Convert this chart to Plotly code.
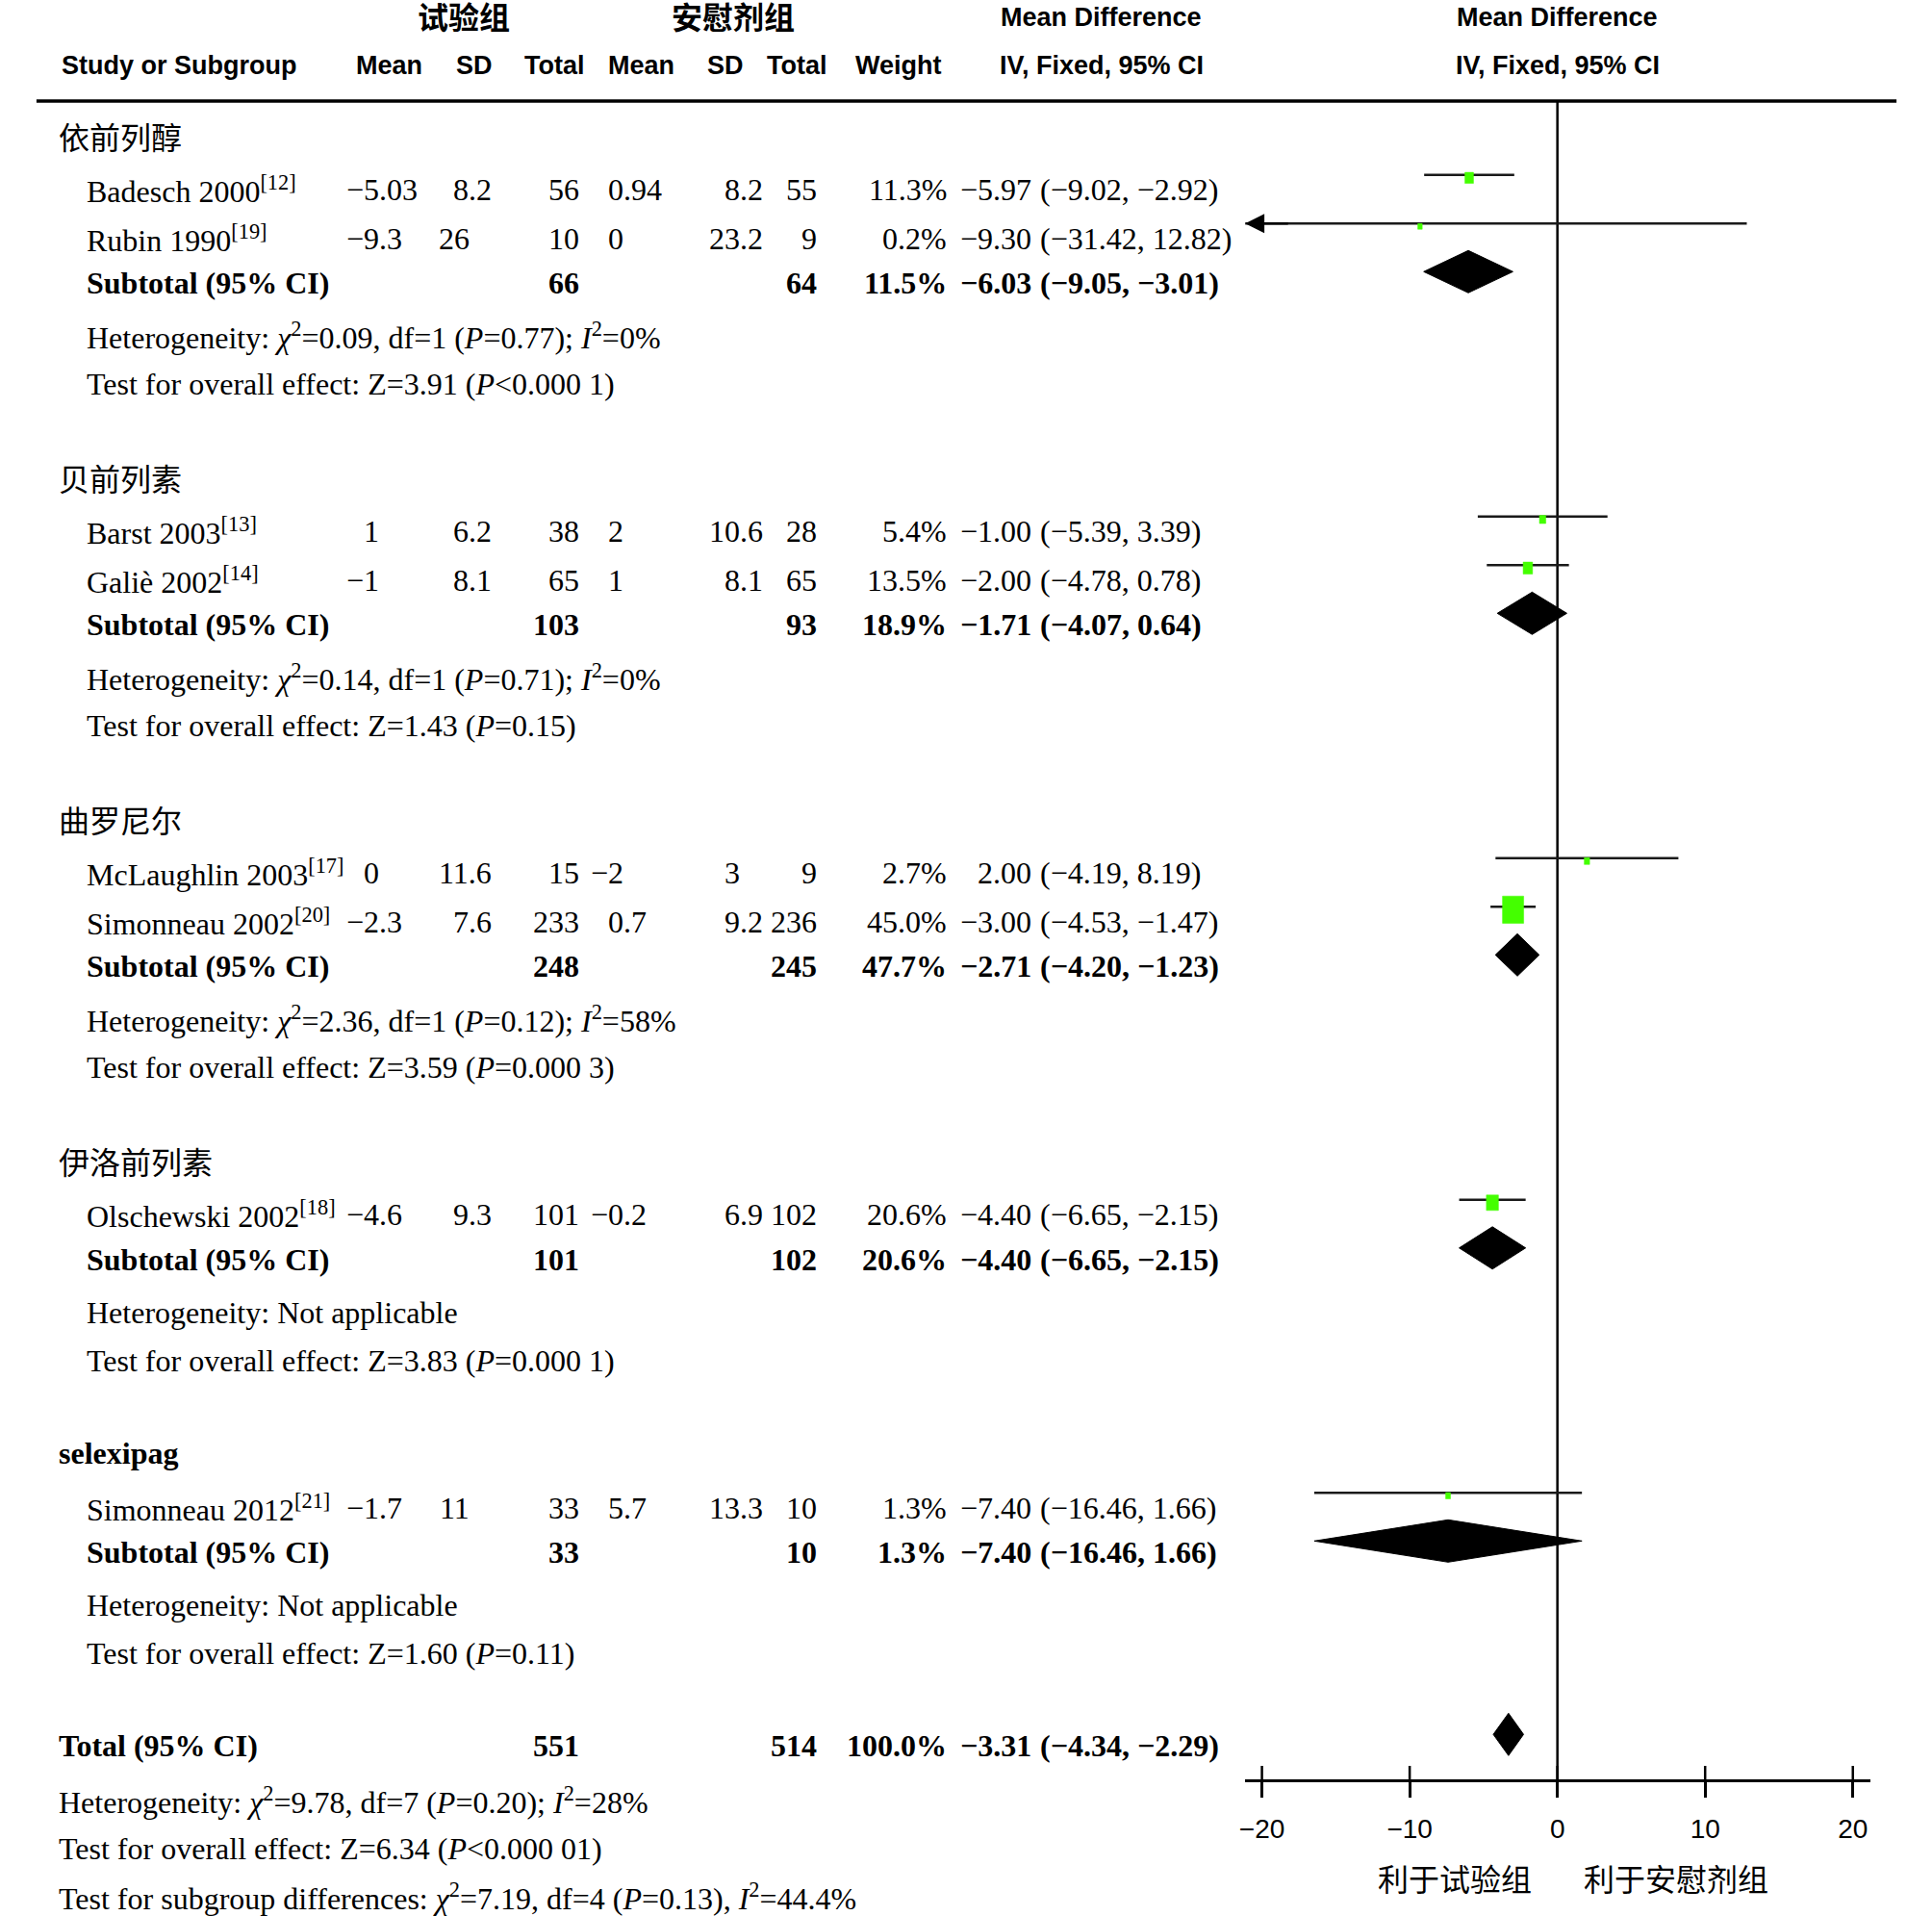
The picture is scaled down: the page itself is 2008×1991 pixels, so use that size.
import plotly.graph_objects as go

# ------------------------------------------------------------------ data
group_names = ["依前列醇", "贝前列素", "曲罗尼尔", "伊洛前列素", "selexipag"]
study_names = ["Badesch 2000", "Rubin 1990", "Barst 2003", "Galiè 2002",
               "McLaughlin 2003", "Simonneau 2002", "Olschewski 2002", "Simonneau 2012"]
study_refs = ["12", "19", "13", "14", "17", "20", "18", "21"]
study_group = [0, 0, 1, 1, 2, 2, 3, 4]
exp_mean = [-5.03, -9.3, 1, -1, 0, -2.3, -4.6, -1.7]
exp_sd = [8.2, 26, 6.2, 8.1, 11.6, 7.6, 9.3, 11]
exp_n = [56, 10, 38, 65, 15, 233, 101, 33]
pla_mean = [0.94, 0, 2, 1, -2, 0.7, -0.2, 5.7]
pla_sd = [8.2, 23.2, 10.6, 8.1, 3, 9.2, 6.9, 13.3]
pla_n = [55, 9, 28, 65, 9, 236, 102, 10]
weight = [11.3, 0.2, 5.4, 13.5, 2.7, 45.0, 20.6, 1.3]
md = [-5.97, -9.30, -1.00, -2.00, 2.00, -3.00, -4.40, -7.40]
md_lo = [-9.02, -31.42, -5.39, -4.78, -4.19, -4.53, -6.65, -16.46]
md_hi = [-2.92, 12.82, 3.39, 0.78, 8.19, -1.47, -2.15, 1.66]

sub_exp_n = [66, 103, 248, 101, 33]
sub_pla_n = [64, 93, 245, 102, 10]
sub_weight = [11.5, 18.9, 47.7, 20.6, 1.3]
sub_md = [-6.03, -1.71, -2.71, -4.40, -7.40]
sub_lo = [-9.05, -4.07, -4.20, -6.65, -16.46]
sub_hi = [-3.01, 0.64, -1.23, -2.15, 1.66]
sub_chi2 = ["0.09", "0.14", "2.36", None, None]
sub_df = ["1", "1", "1", None, None]
sub_het_p = ["0.77", "0.71", "0.12", None, None]
sub_i2 = ["0%", "0%", "58%", None, None]
sub_z = ["3.91", "1.43", "3.59", "3.83", "1.60"]
sub_z_p = ["&lt;0.000 1", "=0.15", "=0.000 3", "=0.000 1", "=0.11"]

total_exp_n = 551
total_pla_n = 514
total_weight = 100.0
total_md, total_lo, total_hi = -3.31, -4.34, -2.29
total_chi2, total_df, total_het_p, total_i2 = "9.78", "7", "0.20", "28%"
total_z, total_z_p = "6.34", "&lt;0.000 01"
subgroup_chi2, subgroup_df, subgroup_p, subgroup_i2 = "7.19", "4", "0.13", "44.4%"

x_ticks = [-20, -10, 0, 10, 20]
favours_labels = ["利于试验组", "利于安慰剂组"]
header_groups = ["试验组", "安慰剂组"]
header_cols = ["Mean", "SD", "Total", "Mean", "SD", "Total", "Weight"]

# ------------------------------------------------------------------ layout constants
W, H = 2008, 1991
SERIF = "Liberation Serif, Times New Roman, serif"
HEAD = "Liberation Sans, Arial, sans-serif"
CJK = "Noto Sans CJK SC"
FS = 32
HFS = 27

ZERO_PX = 1617.5
PX_PER_UNIT = 15.4
AX_L, AX_R = 1292, 1944
X_MIN = (AX_L - ZERO_PX) / PX_PER_UNIT
X_MAX = (AX_R - ZERO_PX) / PX_PER_UNIT
AXIS_Y = 1850
RULE_Y = 105

X_GROUP = 54
X_NAME = 83.5
X_EXP_MEAN = 390
X_EXP_SD = 484
X_EXP_N = 599
X_PLA_MEAN = 645
X_PLA_SD = 766
X_PLA_N = 847
X_W = 982
X_EST = 1070
X_CI = 1077

SQ_COLOR = "#44FF00"

annotations = []


def fmt(v):
    return str(v).replace("-", "−")


def f2(v):
    return f"{v:.2f}".replace("-", "−")


def txt(x, y, s, anchor="left", size=FS, family=SERIF, bold=False, yanchor="middle"):
    annotations.append(dict(x=x / W, y=1 - y / H, xref="paper", yref="paper", text=s,
                            showarrow=False, xanchor=anchor, yanchor=yanchor, borderpad=0,
                            font=dict(family=family, size=size, color="black",
                                      weight="bold" if bold else "normal")))


def dec(xd, y, v):
    # decimal alignment: serif digits are 0.5em, the point 0.25em
    s = fmt(v)
    extra = 0
    if "." in s:
        extra = (0.25 + 0.5 * len(s.split(".")[1])) * FS
    txt(xd + extra, y, s, "right")


def ci_text(xe, xc, y, est, lo, hi, bold=False):
    txt(xe, y, f2(est), "right", bold=bold)
    txt(xc, y, f"({f2(lo)}, {f2(hi)})", "left", bold=bold)


# ------------------------------------------------------------------ header
txt(477.5, 16, header_groups[0], "center", family=CJK, bold=True)
txt(758, 16, header_groups[1], "center", family=CJK, bold=True)
txt(1142, 18, "Mean Difference", "center", size=HFS, family=HEAD, bold=True)
txt(1617.5, 18, "Mean Difference", "center", size=HFS, family=HEAD, bold=True)
txt(57.6, 68, "Study or Subgroup", "left", size=HFS, family=HEAD, bold=True)
for cx, lab in zip([400, 488.5, 572.5, 662, 750.5, 824.5, 931], header_cols):
    txt(cx, 68, lab, "center", size=HFS, family=HEAD, bold=True)
txt(1142, 68, "IV, Fixed, 95% CI", "center", size=HFS, family=HEAD, bold=True)
txt(1617.5, 68, "IV, Fixed, 95% CI", "center", size=HFS, family=HEAD, bold=True)

# ------------------------------------------------------------------ rows
ci_x, ci_y = [], []
sq_x, sq_y = [], []
dm_x, dm_y = [], []
arrows = []

LINE_OFF = 15.5
DIAM_OFF = 12
DIAM_H = 44

y = 140.8
for g, gname in enumerate(group_names):
    if g == 4:
        txt(X_GROUP, y, gname, "left", bold=True)
    else:
        txt(X_GROUP, y, gname, "left", family=CJK)
    idx = [i for i, sg in enumerate(study_group) if sg == g]
    y += 56.5
    for k, i in enumerate(idx):
        if k > 0:
            y += 50.5
        txt(X_NAME, y, f"{study_names[i]}<sup>[{study_refs[i]}]</sup>", "left")
        dec(X_EXP_MEAN, y, exp_mean[i])
        dec(X_EXP_SD, y, exp_sd[i])
        txt(X_EXP_N, y, str(exp_n[i]), "right")
        dec(X_PLA_MEAN, y, pla_mean[i])
        dec(X_PLA_SD, y, pla_sd[i])
        txt(X_PLA_N, y, str(pla_n[i]), "right")
        txt(X_W, y, f"{weight[i]:.1f}%", "right")
        ci_text(X_EST, X_CI, y, md[i], md_lo[i], md_hi[i])
        # forest marks
        yl = y - LINE_OFF
        lo = max(md_lo[i], X_MIN)
        hi = min(md_hi[i], X_MAX)
        ci_x += [lo, hi, None]
        ci_y += [yl, yl, None]
        if md_lo[i] < X_MIN:
            arrows.append((X_MIN, yl, 1))
        if md_hi[i] > X_MAX:
            arrows.append((X_MAX, yl, -1))
        wpx = 4.5 + 0.39 * weight[i]
        hpx = 1.28 * wpx
        hw = wpx / 2 / PX_PER_UNIT
        yc = yl + 3
        sq_x += [md[i] - hw, md[i] + hw, md[i] + hw, md[i] - hw, md[i] - hw, None]
        sq_y += [yc - hpx / 2, yc - hpx / 2, yc + hpx / 2, yc + hpx / 2, yc - hpx / 2, None]
    # subtotal
    y += 46.5
    txt(X_NAME, y, "Subtotal (95% CI)", "left", bold=True)
    txt(X_EXP_N, y, str(sub_exp_n[g]), "right", bold=True)
    txt(X_PLA_N, y, str(sub_pla_n[g]), "right", bold=True)
    txt(X_W, y, f"{sub_weight[g]:.1f}%", "right", bold=True)
    ci_text(X_EST, X_CI, y, sub_md[g], sub_lo[g], sub_hi[g], bold=True)
    yd = y - DIAM_OFF
    dm_x += [sub_lo[g], sub_md[g], sub_hi[g], sub_md[g], sub_lo[g], None]
    dm_y += [yd, yd - DIAM_H / 2, yd, yd + DIAM_H / 2, yd, None]
    # heterogeneity / test
    y += 55
    if sub_chi2[g] is None:
        txt(X_NAME, y, "Heterogeneity: Not applicable", "left")
    else:
        txt(X_NAME, y, f"Heterogeneity: <i>χ</i><sup>2</sup>={sub_chi2[g]}, df={sub_df[g]} "
                       f"(<i>P</i>={sub_het_p[g]}); <i>I</i><sup>2</sup>={sub_i2[g]}", "left")
    y += 50
    txt(X_NAME, y, f"Test for overall effect: Z={sub_z[g]} (<i>P</i>{sub_z_p[g]})", "left")
    y += 96.5 if g < 4 else 96

# total
txt(X_GROUP, y, "Total (95% CI)", "left", bold=True)
txt(X_EXP_N, y, str(total_exp_n), "right", bold=True)
txt(X_PLA_N, y, str(total_pla_n), "right", bold=True)
txt(X_W, y, f"{total_weight:.1f}%", "right", bold=True)
ci_text(X_EST, X_CI, y, total_md, total_lo, total_hi, bold=True)
yd = y - DIAM_OFF
dm_x += [total_lo, total_md, total_hi, total_md, total_lo, None]
dm_y += [yd, yd - DIAM_H / 2, yd, yd + DIAM_H / 2, yd, None]
y += 56.3
txt(X_GROUP, y, f"Heterogeneity: <i>χ</i><sup>2</sup>={total_chi2}, df={total_df} "
                f"(<i>P</i>={total_het_p}); <i>I</i><sup>2</sup>={total_i2}", "left")
y += 50
txt(X_GROUP, y, f"Test for overall effect: Z={total_z} (<i>P</i>{total_z_p})", "left")
y += 50
txt(X_GROUP, y, f"Test for subgroup differences: <i>χ</i><sup>2</sup>={subgroup_chi2}, df={subgroup_df} "
                f"(<i>P</i>={subgroup_p}), <i>I</i><sup>2</sup>={subgroup_i2}", "left")

# favours labels
txt(1511, 1951, favours_labels[0], "center", family=CJK)
txt(1741, 1951, favours_labels[1], "center", family=CJK)

# ------------------------------------------------------------------ traces
fig = go.Figure()
fig.add_trace(go.Scatter(x=[0, 0], y=[RULE_Y, AXIS_Y], mode="lines",
                         line=dict(color="black", width=2.5), hoverinfo="skip"))
tx, ty = [], []
for t in x_ticks:
    tx += [t, t, None]
    ty += [AXIS_Y, AXIS_Y - 15, None]
fig.add_trace(go.Scatter(x=tx, y=ty, mode="lines", line=dict(color="black", width=2.5),
                         hoverinfo="skip", cliponaxis=False))
fig.add_trace(go.Scatter(x=ci_x, y=ci_y, mode="lines", line=dict(color="#1a1a1a", width=2.5),
                         hoverinfo="skip"))
fig.add_trace(go.Scatter(x=sq_x, y=sq_y, mode="lines", fill="toself", fillcolor=SQ_COLOR,
                         line=dict(color=SQ_COLOR, width=0.5), hoverinfo="skip"))
fig.add_trace(go.Scatter(x=dm_x, y=dm_y, mode="lines", fill="toself", fillcolor="black",
                         line=dict(color="black", width=1), hoverinfo="skip"))

for (xa, ya, d) in arrows:
    annotations.append(dict(x=xa, y=ya, xref="x", yref="y", ax=xa + d * 3, ay=ya,
                            axref="x", ayref="y", text="", showarrow=True, arrowhead=2,
                            arrowsize=1.6, arrowwidth=2.5, arrowcolor="black", standoff=0))

fig.update_layout(
    width=W, height=H, margin=dict(l=0, r=0, t=0, b=0),
    paper_bgcolor="white", plot_bgcolor="rgba(0,0,0,0)", showlegend=False,
    xaxis=dict(domain=[AX_L / W, AX_R / W], range=[X_MIN, X_MAX], anchor="free",
               position=1 - AXIS_Y / H, showline=True, linewidth=3, linecolor="black",
               ticks="outside", ticklen=16, tickwidth=2.5, tickcolor="black",
               tickmode="array", tickvals=x_ticks, showgrid=False, zeroline=False,
               tickfont=dict(family=HEAD, size=28, color="black"), ticklabelstandoff=8),
    yaxis=dict(domain=[0, 1], range=[H, 0], visible=False, showgrid=False, zeroline=False),
    annotations=annotations,
    shapes=[dict(type="line", xref="paper", yref="paper", x0=32 / W, x1=1971 / W,
                 y0=1 - RULE_Y / H, y1=1 - RULE_Y / H, line=dict(color="black", width=3.5))],
)

fig.write_html("out.html", config={"displayModeBar": False},
               post_script="document.body.style.margin='0';"
                           "document.body.style.padding='0';"
                           "document.body.style.overflow='hidden';")
